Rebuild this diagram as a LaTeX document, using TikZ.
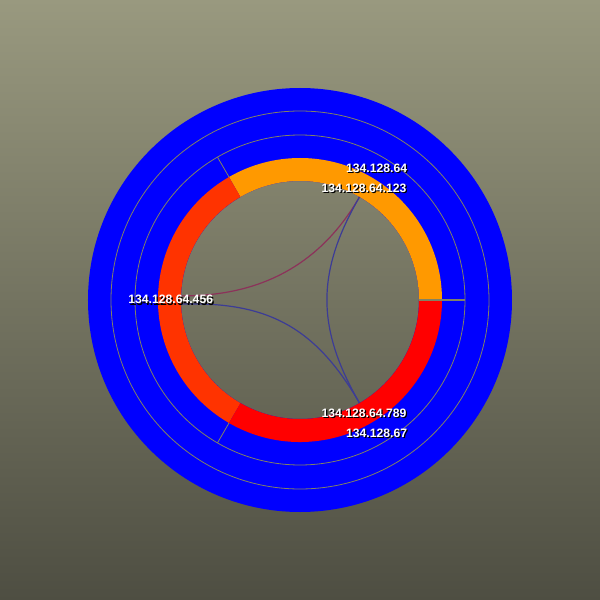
\documentclass[tikz,border=0pt]{standalone}
\usepackage{fontspec}
\setmainfont{Liberation Sans}
\usetikzlibrary{calc}
\definecolor{bgtop}{RGB}{153,153,127}
\definecolor{bgbot}{RGB}{78,78,66}
\definecolor{ringblue}{RGB}{0,0,255}
\definecolor{segorange}{RGB}{255,153,0}
\definecolor{segredor}{RGB}{255,51,0}
\definecolor{segred}{RGB}{255,0,0}
\definecolor{guide}{RGB}{130,130,100}
\definecolor{linkred}{RGB}{140,50,90}
\definecolor{linkblue}{RGB}{60,60,150}
\newcommand\shadowtxt[1]{\makebox[0pt][l]{\hspace*{1.3pt}\raisebox{-1.3pt}{\color{black}#1}}#1}
\tikzset{
  lbl/.style={font=\fontsize{12.2}{13}\selectfont\bfseries, text=white, inner sep=0pt},
  guideline/.style={draw=guide, line width=0.8pt},
  linkline/.style={line width=1.2pt},
}
\begin{document}
\begin{tikzpicture}[x=1pt,y=1pt]
\shade[top color=bgtop,bottom color=bgbot] (-300,-300) rectangle (300,300);
\useasboundingbox (-300,-300) rectangle (300,300);
% blue annulus
\fill[ringblue,even odd rule] (0,0) circle (212) (0,0) circle (119);
% guide circles
\draw[guideline] (0,0) circle (189);
\draw[guideline] (0,0) circle (165);
% inner ring segments
\fill[segorange] (0:142) arc (0:120:142) -- (120:119) arc (120:0:119) -- cycle;
\fill[segredor] (120:142) arc (120:240:142) -- (240:119) arc (240:120:119) -- cycle;
\fill[segred] (240:142) arc (240:360:142) -- (360:119) arc (360:240:119) -- cycle;
% radial separators
\draw[guideline] (120:142) -- (120:165);
\draw[guideline] (240:142) -- (240:165);
\draw[guideline, line width=1.8pt] (0:119) -- (0:165);
% link endpoints
\coordinate (O) at (0,0);
\coordinate (pA) at (60:119);
\coordinate (pB1) at (178:119);
\coordinate (pB2) at (182:119);
\coordinate (pC) at (300:119);
% links
\draw[linkline, linkred] (pA) .. controls ($(pA)!0.7!(O)$) and ($(pB1)!0.62!(O)+(0,2)$) .. (pB1);
\draw[linkline, linkblue] (pA) .. controls ($(pA)!0.73!(O)$) and ($(pC)!0.73!(O)$) .. (pC);
\draw[linkline, linkblue] (pB2) .. controls ($(pB2)!0.73!(O)$) and ($(pC)!0.73!(O)$) .. (pC);
% labels
\node[lbl] (l1) at (76.6,131.2) {\shadowtxt{134.128.64}};
\node[lbl] (l2) at (64,111.3) {\shadowtxt{134.128.64.123}};
\node[lbl] (l3) at (-129.3,-0.4) {\shadowtxt{134.128.64.456}};
\node[lbl] (l4) at (64,-113.7) {\shadowtxt{134.128.64.789}};
\node[lbl] (l5) at (76.6,-133.6) {\shadowtxt{134.128.67}};
\end{tikzpicture}
\end{document}
